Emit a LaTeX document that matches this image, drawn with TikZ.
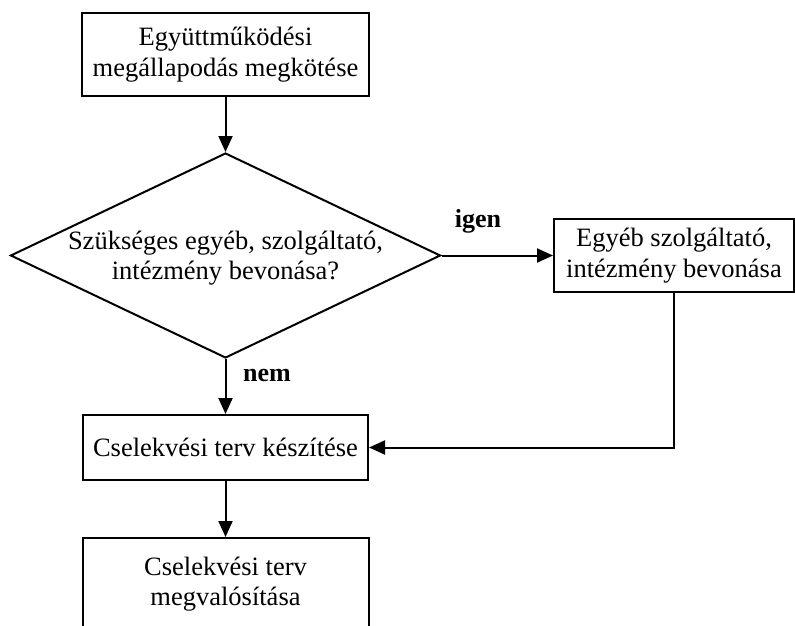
\documentclass[tikz,border=0pt]{standalone}
\usepackage{fontspec}
\setmainfont{Liberation Serif}
\usetikzlibrary{shapes.geometric,arrows.meta}
\tikzset{
  box/.style={draw, line width=2pt, rectangle, inner sep=0pt, align=center,
    font=\fontsize{26.5}{30.5}\selectfont},
  decision/.style={draw, line width=2pt, diamond, inner sep=0pt,
    minimum width=430pt, minimum height=205pt},
  txt/.style={align=center, inner sep=0pt, font=\fontsize{26.5}{30}\selectfont},
  lbl/.style={inner sep=0pt, font=\fontsize{26}{30}\selectfont\bfseries},
  conn/.style={line width=2pt, -{Triangle[length=16pt,width=14pt]}}
}
\begin{document}
\begin{tikzpicture}[x=1pt,y=-1pt]
\clip (0,0) rectangle (795,626);
\node[box, minimum width=287pt, minimum height=83pt] (b1) at (225.5,54.5)
  {Együttműködési\\megállapodás megkötése};
\node[decision] (d) at (225.5,255.5) {};
\node[txt] (dt) at (225.5,258) {Szükséges egyéb, szolgáltató,\\intézmény bevonása?};
\node[box, minimum width=240pt, minimum height=73pt] (b2) at (674,255.5)
  {Egyéb szolgáltató,\\intézmény bevonása};
\node[box, minimum width=285pt, minimum height=65pt] (b3) at (225.5,447.5)
  {Cselekvési terv készítése};
\node[box, minimum width=286pt, minimum height=92pt] (b4) at (225.5,584)
  {Cselekvési terv\\megvalósítása};
\node[lbl] (igen) at (478,221) {igen};
\node[lbl] (nem) at (267,375) {nem};
\coordinate (corner) at (b2.south |- b3.east);
\draw[conn] (b1.south) -- (d.north);
\draw[conn] (d.east) -- (b2.west);
\draw[conn] (d.south) -- (b3.north);
\draw[conn] (b2.south) -- (corner) -- (b3.east);
\draw[conn] (b3.south) -- (b4.north);
\end{tikzpicture}
\end{document}
